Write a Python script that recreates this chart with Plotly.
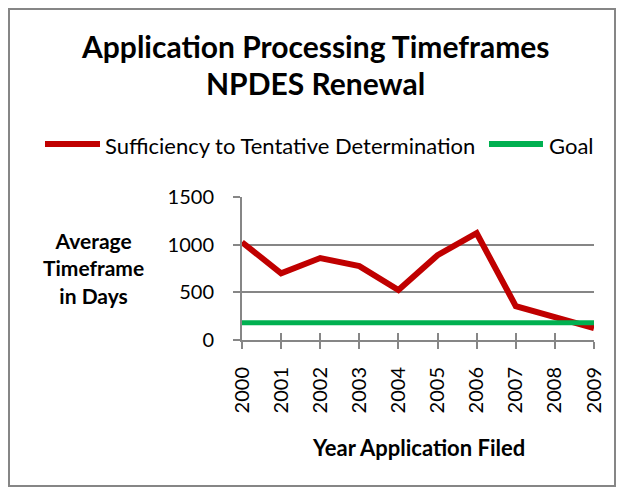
import plotly.graph_objects as go

# Data
years = [2000, 2001, 2002, 2003, 2004, 2005, 2006, 2007, 2008, 2009]
sufficiency_days = [1025, 700, 860, 775, 525, 890, 1120, 355, 240, 125]
goal_days = [180] * len(years)
series_names = ["Sufficiency to Tentative Determination", "Goal"]
series_colors = ["#C00000", "#00B050"]

OFF = 8                            # default page margin around the plot div
W, H = 624 - 2 * OFF, 495 - 2 * OFF
L, R, T, B = 242, 594, 197, 340    # plot area in page pixels


def px(x):
    return (x - L) / (R - L)


def py(y):
    return (B - y) / (B - T)


FONT = "Lato, Calibri, sans-serif"
GRID = "#868686"

fig = go.Figure()
fig.add_trace(go.Scatter(
    x=years, y=sufficiency_days, mode="lines", name=series_names[0],
    line=dict(color=series_colors[0], width=6), cliponaxis=False,
))
fig.add_trace(go.Scatter(
    x=years, y=goal_days, mode="lines", name=series_names[1],
    line=dict(color=series_colors[1], width=5), cliponaxis=False,
))
# empty trace so the overlaying axis gets drawn (inner half of cross ticks)
fig.add_trace(go.Scatter(x=[years[0]], y=[None], xaxis="x2",
                         showlegend=False, hoverinfo="skip"))

fig.update_layout(
    width=W, height=H,
    margin=dict(l=L - OFF, r=OFF + W - R, t=T - OFF, b=OFF + H - B),
    paper_bgcolor="white", plot_bgcolor="white",
    font=dict(family=FONT, color="black"),
    showlegend=False,
    xaxis=dict(range=[years[0], years[-1]], tickmode="array", tickvals=years,
               ticktext=[str(y) for y in years], tickangle=-90,
               ticks="outside", ticklen=7, tickcolor=GRID, tickwidth=2,
               showline=True, linecolor=GRID, linewidth=2, showgrid=False,
               zeroline=False, tickfont=dict(size=20), ticklabelstandoff=10),
    xaxis2=dict(range=[years[0], years[-1]], overlaying="x", anchor="y",
                side="bottom", tickmode="array", tickvals=years,
                showticklabels=False, ticks="inside", ticklen=7,
                tickcolor=GRID, tickwidth=2, showgrid=False, zeroline=False),
    yaxis=dict(range=[0, 1500], dtick=500, ticks="outside", ticklen=7,
               tickcolor=GRID, tickwidth=2, showline=True, linecolor=GRID,
               linewidth=2, gridcolor=GRID, gridwidth=2, zeroline=False,
               tickfont=dict(size=20), ticklabelstandoff=15),
)

annotations = [
    dict(text="<b>Application Processing Timeframes</b>",
         x=px(315), y=py(46), font=dict(size=30)),
    dict(text="<b>NPDES Renewal</b>",
         x=px(315), y=py(83), font=dict(size=30)),
    dict(text="<b>Average<br>Timeframe<br>in Days</b>",
         x=px(93), y=py(268), font=dict(size=21)),
    dict(text="<b>Year Application Filed</b>",
         x=px(418), y=py(447), font=dict(size=22)),
    dict(text=series_names[0], x=px(103), y=py(145), xanchor="left",
         font=dict(size=22)),
    dict(text=series_names[1], x=px(547), y=py(145), xanchor="left",
         font=dict(size=22)),
]
for a in annotations:
    a.setdefault("xanchor", "center")
    a.update(xref="paper", yref="paper", showarrow=False, yanchor="middle")
fig.update_layout(annotations=annotations)

# legend keys
for (x0, x1), color in zip([(45, 100), (489, 543)], series_colors):
    fig.add_shape(type="line", xref="paper", yref="paper",
                  x0=px(x0), x1=px(x1), y0=py(144), y1=py(144),
                  line=dict(color=color, width=6))

# chart border, kept just inside the figure
fig.add_shape(type="rect", xref="paper", yref="paper",
              x0=px(OFF + 1), x1=px(OFF + W - 1),
              y0=py(OFF + 1), y1=py(OFF + H - 1),
              line=dict(color=GRID, width=2), layer="below")

fig.write_html("out.html")
